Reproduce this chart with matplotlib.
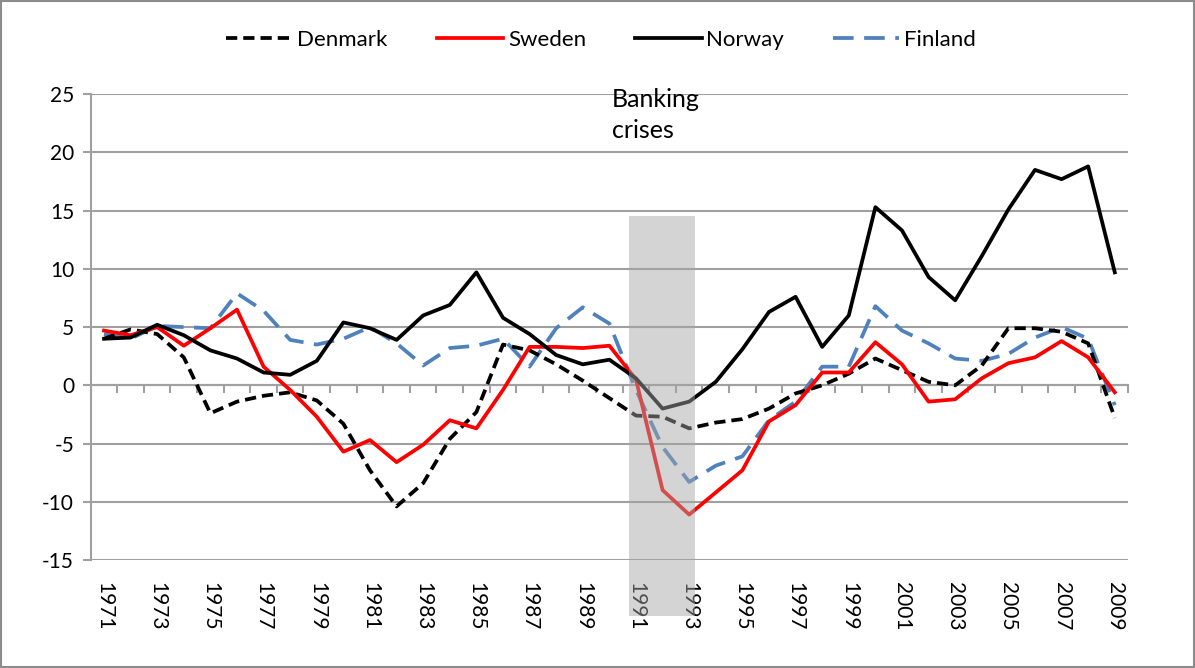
import matplotlib
matplotlib.use("Agg")
import matplotlib.pyplot as plt
import matplotlib.patches as patches
import numpy as np

plt.rcParams['font.family'] = ['Lato', 'DejaVu Sans']
plt.rcParams['axes.unicode_minus'] = False

years = list(range(1971, 2010))

denmark = [4.0, 4.8, 4.4, 2.4, -2.4, -1.4, -0.9, -0.6, -1.3, -3.3,
           -7.3, -10.4, -8.4, -4.6, -2.3, 3.5, 3.0, 1.8, 0.4, -1.1,
           -2.6, -2.7, -3.7, -3.2, -2.9, -2.0, -0.7, 0.0, 1.0, 2.3,
           1.3, 0.3, 0.0, 1.7, 4.9, 4.9, 4.6, 3.6, -2.8]
sweden = [4.7, 4.3, 5.0, 3.4, 4.9, 6.5, 1.6, -0.4, -2.7, -5.7,
          -4.7, -6.6, -5.1, -3.0, -3.7, -0.4, 3.3, 3.3, 3.2, 3.4,
          0.5, -9.0, -11.1, -9.2, -7.3, -3.1, -1.7, 1.1, 1.1, 3.7,
          1.8, -1.4, -1.2, 0.6, 1.9, 2.4, 3.8, 2.4, -0.6]
norway = [4.0, 4.1, 5.2, 4.3, 3.0, 2.3, 1.1, 0.9, 2.1, 5.4,
          4.9, 3.9, 6.0, 6.9, 9.7, 5.8, 4.4, 2.6, 1.8, 2.2,
          0.6, -2.0, -1.4, 0.3, 3.1, 6.3, 7.6, 3.3, 6.0, 15.3,
          13.3, 9.3, 7.3, 11.1, 15.1, 18.5, 17.7, 18.8, 9.7]
finland = [4.4, 4.0, 5.1, 5.0, 4.9, 7.9, 6.4, 3.9, 3.5, 4.0,
           5.0, 3.6, 1.7, 3.2, 3.4, 4.0, 1.6, 4.9, 6.7, 5.3,
           -0.4, -5.3, -8.3, -6.9, -6.1, -3.0, -1.4, 1.6, 1.6, 6.8,
           4.7, 3.6, 2.3, 2.1, 2.7, 4.1, 5.0, 4.0, -1.7]

crisis_years = (1991, 1993)

fig = plt.figure(figsize=(11.95, 6.68), dpi=100)
ax = fig.add_axes([0.0759, 0.1617, 0.944 - 0.0759, 0.859 - 0.1617])

x = np.arange(len(years))
grid_col = '#a0a0a0'

ax.plot(x, denmark, color='black', lw=2.7, linestyle=(0, (3, 1.6)), label='Denmark', zorder=4)
ax.plot(x, sweden, color='#ff0000', lw=2.7, label='Sweden', zorder=4)
ax.plot(x, norway, color='black', lw=2.7, label='Norway', zorder=4)
ax.plot(x, finland, color='#4f81bd', lw=2.7, linestyle=(0, (5.5, 2.8)), label='Finland', zorder=3)

ax.set_xlim(-0.5, len(years) - 0.5)
ax.set_ylim(-15, 25)
ax.set_yticks(np.arange(-15, 26, 5))
ax.yaxis.grid(True, color=grid_col, lw=1.5)
ax.set_axisbelow(True)

for s in ['top', 'right', 'bottom']:
    ax.spines[s].set_visible(False)
ax.spines['left'].set_color(grid_col)
ax.spines['left'].set_linewidth(1.5)
ax.tick_params(axis='y', colors=grid_col, labelcolor='black', length=6, width=1.5,
               labelsize=15, pad=6)

# year labels at the bottom, every second year
ax.set_xticks(x[::2])
ax.set_xticklabels([str(y) for y in years[::2]], rotation=-90, fontsize=15)
ax.tick_params(axis='x', length=0, pad=16)

# category axis crossing at zero with tick marks between categories
sec = ax.secondary_xaxis(0, transform=ax.transData)
sec.set_xticks(np.arange(-0.5, len(years), 1))
sec.set_xticklabels([])
sec.tick_params(axis='x', colors=grid_col, length=6, width=1.5, direction='out')
sec.spines['bottom'].set_color(grid_col)
sec.spines['bottom'].set_linewidth(1.5)

# banking crises shading
i0 = years.index(crisis_years[0]) - 0.26
i1 = years.index(crisis_years[1]) + 0.2
rect = patches.Rectangle((i0, -19.8), i1 - i0, 34.3, transform=ax.transData,
                         facecolor='#a5a5a5', alpha=0.48, edgecolor='none', zorder=5)
fig.add_artist(rect)
ax.text(years.index(crisis_years[0]) - 0.9, 25.5, 'Banking\ncrises', fontsize=18,
        va='top', ha='left', linespacing=1.4, clip_on=False, zorder=6)

fig.legend(loc='center', bbox_to_anchor=(601 / 1195, 1 - 40 / 668), ncol=4,
           frameon=False, fontsize=16, handlelength=3.0, handletextpad=0.2,
           columnspacing=2.2)

border = patches.Rectangle((0.001, 0.002), 0.998, 0.996, transform=fig.transFigure,
                           fill=False, edgecolor='#8c8c8c', lw=1.5)
fig.add_artist(border)

fig.savefig('out.png', dpi=100)
